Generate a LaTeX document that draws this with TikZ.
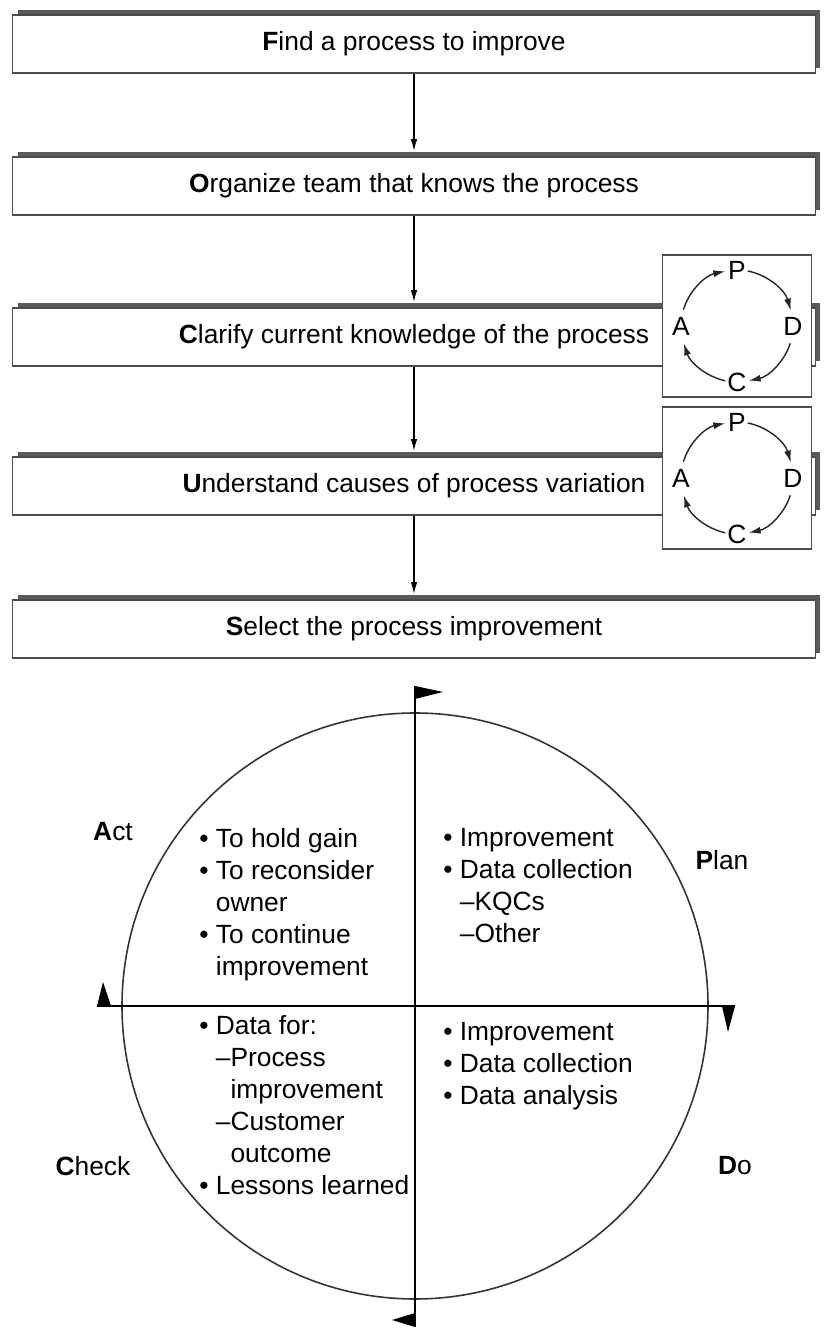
\documentclass[tikz,border=0pt]{standalone}
\usepackage{fontspec}
\setmainfont{Liberation Sans}
\usepackage{tikz}
\usetikzlibrary{calc}
\usetikzlibrary{arrows.meta}
\usetikzlibrary{shadows}

\newcommand{\gap}{\phantom{•\ }}
\newcommand{\dgap}{\phantom{•\ –}}

\tikzset{
  stepbox/.style={draw=black!70, line width=0.9pt, fill=white, minimum width=16.06cm, minimum height=1.16cm,
    font=\fontsize{15}{18}\selectfont, general shadow={fill=black!65, shadow xshift=0.1cm, shadow yshift=0.1cm}},
  cycbox/.style={draw=black!70, line width=0.9pt, fill=white, minimum width=2.98cm, minimum height=2.84cm},
  cycletter/.style={inner sep=0pt, font=\fontsize{15}{17}\selectfont},
  cycarrow/.style={black!85, line width=0.8pt, -{Latex[length=0.24cm,width=0.14cm]}},
  flow/.style={line width=0.9pt, -{Latex[length=0.24cm,width=0.13cm]}, shorten >=0.1cm},
  quad/.style={align=left, inner sep=0pt, anchor=north west, font=\fontsize{15}{18.2}\selectfont},
  phase/.style={inner sep=0pt, font=\fontsize{15}{18}\selectfont},
  axis/.style={line width=1.2pt},
}

\begin{document}
\begin{tikzpicture}[x=0.02cm, y=0.02cm]
\useasboundingbox (0,0) rectangle (827,1342);

% the five steps
\node[stepbox] (find) at (414,1298) {\textbf{F}ind a process to improve};
\node[stepbox] (organize) at (414,1156) {\textbf{O}rganize team that knows the process};
\node[stepbox] (clarify) at (414,1005) {\textbf{C}larify current knowledge of the process};
\node[stepbox] (understand) at (414,856) {\textbf{U}nderstand causes of process variation};
\node[stepbox] (select) at (414,713) {\textbf{S}elect the process improvement};

\draw[flow] (find) -- (organize);
\draw[flow] (organize) -- (clarify);
\draw[flow] (clarify) -- (understand);
\draw[flow] (understand) -- (select);

% small PDCA cycles
\node[cycbox] (cyc1) at (737,1016) {};
\node[cycbox] (cyc2) at (737,864) {};
\foreach \c in {cyc1,cyc2} {
  \node[cycletter] (\c P) at ($(\c)+(0,56)$) {P};
  \node[cycletter] (\c D) at ($(\c)+(56,0)$) {D};
  \node[cycletter] (\c C) at ($(\c)+(0,-56)$) {C};
  \node[cycletter] (\c A) at ($(\c)+(-56,0)$) {A};
  \draw[cycarrow] ($(\c)+(79:56)$) arc[start angle=79, end angle=16, radius=56];
  \draw[cycarrow] ($(\c)+(-18:56)$) arc[start angle=-18, end angle=-78, radius=56];
  \draw[cycarrow] ($(\c)+(-102:56)$) arc[start angle=-102, end angle=-162, radius=56];
  \draw[cycarrow] ($(\c)+(163:56)$) arc[start angle=163, end angle=102, radius=56];
}

% PDCA wheel
\coordinate (O) at (415,336);
\coordinate (top) at (415,656);
\coordinate (bottom) at (415,15);
\coordinate (left) at (97,336);
\coordinate (right) at (735,336);

\draw[black!80, line width=0.9pt] (O) circle[radius=293];
\draw[axis] (bottom) -- (top);
\draw[axis] (left) -- (right);

\fill (top) -- ++(28,-6) -- ++(-28,-7) -- cycle;
\fill (left) -- ++(14,0) -- ++(-8,24) -- cycle;
\fill (right) -- ++(-13,0) -- ++(6,-26) -- cycle;
\fill (bottom) -- ++(0,14) -- ++(-23,-7) -- cycle;

\node[phase] (act) at (113,510) {\textbf{A}ct};
\node[phase] (plan) at (722,482) {\textbf{P}lan};
\node[phase] (check) at (93,176) {\textbf{C}heck};
\node[phase] (do) at (735,176) {\textbf{D}o};

\node[quad] (actlist) at (199,514) {• To hold gain\\• To reconsider\\\gap owner\\• To continue\\\gap improvement};
\node[quad] (planlist) at (443,514) {• Improvement\\• Data collection\\\gap –KQCs\\\gap –Other};
\node[quad] (checklist) at (199,327) {• Data for:\\\gap –Process\\\dgap improvement\\\gap –Customer\\\dgap outcome\\• Lessons learned};
\node[quad] (dolist) at (443,320) {• Improvement\\• Data collection\\• Data analysis};

\end{tikzpicture}
\end{document}
